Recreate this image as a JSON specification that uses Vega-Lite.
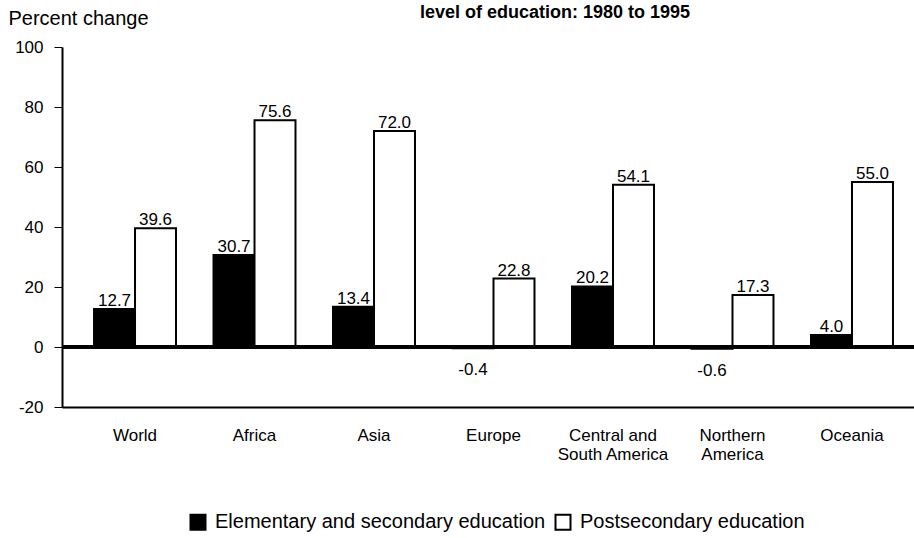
{
  "$schema": "https://vega.github.io/schema/vega-lite/v6.json",
  "width": 852,
  "height": 360,
  "autosize": {"type": "none"},
  "padding": {"left": 62, "top": 47, "right": 0, "bottom": 131},
  "background": "white",
  "config": {
    "font": "Liberation Sans",
    "locale": {"number": {"decimal": ".", "thousands": ",", "grouping": [3], "currency": ["$", ""], "minus": "-"}},
    "view": {"stroke": null},
    "axis": {"labelFont": "Liberation Sans", "titleFont": "Liberation Sans", "labelColor": "black", "titleColor": "black", "domainColor": "black", "tickColor": "black"},
    "legend": {"labelFont": "Liberation Sans", "labelColor": "black"}
  },
  "title": {
    "text": "level of education: 1980 to 1995",
    "font": "Liberation Sans",
    "fontWeight": "bold",
    "fontSize": 18,
    "anchor": "middle",
    "frame": "group",
    "dx": 67,
    "baseline": "alphabetic",
    "offset": -28,
    "color": "black"
  },
  "data": {
    "values": [
      {"region": "World", "level": "Elementary and secondary education", "value": 12.7},
      {"region": "World", "level": "Postsecondary education", "value": 39.6},
      {"region": "Africa", "level": "Elementary and secondary education", "value": 30.7},
      {"region": "Africa", "level": "Postsecondary education", "value": 75.6},
      {"region": "Asia", "level": "Elementary and secondary education", "value": 13.4},
      {"region": "Asia", "level": "Postsecondary education", "value": 72.0},
      {"region": "Europe", "level": "Elementary and secondary education", "value": -0.4},
      {"region": "Europe", "level": "Postsecondary education", "value": 22.8},
      {"region": "Central and South America", "level": "Elementary and secondary education", "value": 20.2},
      {"region": "Central and South America", "level": "Postsecondary education", "value": 54.1},
      {"region": "Northern America", "level": "Elementary and secondary education", "value": -0.6},
      {"region": "Northern America", "level": "Postsecondary education", "value": 17.3},
      {"region": "Oceania", "level": "Elementary and secondary education", "value": 4.0},
      {"region": "Oceania", "level": "Postsecondary education", "value": 55.0}
    ]
  },
  "encoding": {
    "x": {
      "field": "region",
      "type": "nominal",
      "sort": null,
      "scale": {"paddingInner": 0.314, "paddingOuter": 0.268, "range": [0, 863]},
      "axis": {
        "title": null,
        "orient": "bottom",
        "ticks": false,
        "labelAngle": 0,
        "labelFontSize": 17,
        "labelPadding": 20,
        "labelLineHeight": 19,
        "domainWidth": 2,
        "labelExpr": "datum.value == 'Central and South America' ? ['Central and', 'South America'] : datum.value == 'Northern America' ? ['Northern', 'America'] : datum.label"
      }
    },
    "xOffset": {"field": "level", "type": "nominal", "sort": null}
  },
  "layer": [
    {
      "mark": {"type": "bar", "stroke": "black", "strokeWidth": 2},
      "encoding": {
        "y": {
          "field": "value",
          "type": "quantitative",
          "scale": {"domain": [-20, 100], "nice": false, "zero": false},
          "axis": {
            "values": [-20, 0, 20, 40, 60, 80, 100],
            "grid": false,
            "tickSize": 8,
            "labelPadding": 11,
            "labelFontSize": 17,
            "domainWidth": 2,
            "title": "Percent change",
            "titleAngle": 0,
            "titleFontSize": 20,
            "titleFontWeight": "normal",
            "titleAlign": "left",
            "titleBaseline": "middle",
            "titleX": -54,
            "titleY": -29
          }
        },
        "fill": {
          "field": "level",
          "type": "nominal",
          "sort": null,
          "scale": {"range": ["black", "white"]},
          "legend": {
            "title": null,
            "orient": "none",
            "direction": "horizontal",
            "legendX": 126,
            "legendY": 465,
            "symbolType": "square",
            "symbolSize": 225,
            "symbolStrokeColor": "black",
            "symbolStrokeWidth": 2,
            "labelFontSize": 20,
            "labelOffset": 7,
            "columnPadding": 5,
            "labelLimit": 500
          }
        }
      }
    },
    {
      "transform": [{"filter": "datum.value >= 0"}],
      "mark": {"type": "text", "baseline": "alphabetic", "dy": -3, "fontSize": 17, "color": "black"},
      "encoding": {
        "y": {"field": "value", "type": "quantitative"},
        "text": {"field": "value", "type": "quantitative", "format": ".1f"}
      }
    },
    {
      "transform": [{"filter": "datum.value < 0"}],
      "mark": {"type": "text", "baseline": "top", "dy": 14, "fontSize": 17, "color": "black"},
      "encoding": {
        "y": {"field": "value", "type": "quantitative"},
        "text": {"field": "value", "type": "quantitative", "format": ".1f"}
      }
    },
    {
      "mark": {"type": "rule", "color": "black", "strokeWidth": 2.5},
      "encoding": {"y": {"datum": 0}, "x": {"value": 0}, "x2": {"value": 863}, "xOffset": null}
    }
  ]
}
